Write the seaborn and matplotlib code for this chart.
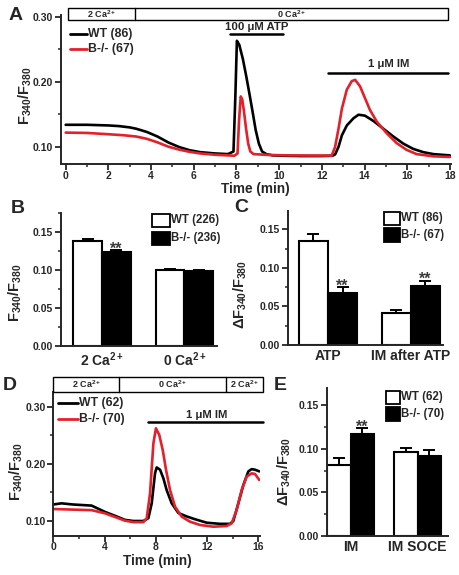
import numpy as np
import pandas as pd
import matplotlib
matplotlib.use("Agg")
import matplotlib.pyplot as plt
import seaborn as sns
from matplotlib.patches import Rectangle
from matplotlib.lines import Line2D
from matplotlib.ticker import MultipleLocator, FormatStrFormatter

# ---------------- data ----------------
genotypes = ["WT", "B-/-"]

# Panel A traces (time in min, F340/F380)
a_wt_t = [0, 1, 2, 2.5, 3.0, 3.3, 3.8, 4.3, 4.8, 5.3, 5.8, 6.3, 7.0, 7.6, 7.86, 7.95, 8.02, 8.13,
          8.3, 8.45, 8.6, 8.75, 8.9, 9.05, 9.2, 9.4, 9.7, 10.2, 11.0, 12.0, 12.5, 12.62, 12.78,
          12.94, 13.17, 13.48, 13.72, 14.02, 14.41, 14.88, 15.35, 15.82, 16.28, 16.75, 17.22, 18.0]
a_wt_v = [0.134, 0.134, 0.133, 0.132, 0.130, 0.128, 0.123, 0.116, 0.107, 0.100, 0.095, 0.092,
          0.090, 0.089, 0.093, 0.180, 0.263, 0.257, 0.235, 0.210, 0.183, 0.155, 0.126, 0.105,
          0.093, 0.089, 0.087, 0.0865, 0.086, 0.086, 0.0865, 0.0885, 0.100, 0.118, 0.133, 0.144,
          0.1495, 0.148, 0.140, 0.128, 0.116, 0.105, 0.097, 0.092, 0.089, 0.087]
a_ko_t = [0, 1, 2, 2.7, 3.3, 3.8, 4.3, 4.8, 5.3, 5.8, 6.3, 7.0, 7.9, 8.05, 8.12, 8.2, 8.27, 8.35,
          8.45, 8.55, 8.65, 8.8, 9.5, 10.5, 12.46, 12.62, 12.78, 12.94, 13.17, 13.4, 13.56, 13.79,
          14.02, 14.25, 14.57, 15.04, 15.5, 15.97, 16.44, 17.22, 18.0]
a_ko_v = [0.122, 0.1215, 0.1195, 0.118, 0.116, 0.1125, 0.107, 0.1005, 0.096, 0.0925, 0.090, 0.088,
          0.0865, 0.090, 0.140, 0.1775, 0.173, 0.155, 0.128, 0.105, 0.093, 0.089, 0.0877, 0.087,
          0.0867, 0.100, 0.128, 0.159, 0.188, 0.201, 0.203, 0.193, 0.175, 0.157, 0.139, 0.121,
          0.106, 0.0955, 0.089, 0.0856, 0.0846]
a_n = {"WT": 86, "B-/-": 67}
a_switch = [0.1, 3.24, 17.92]          # 2 Ca -> 0 Ca solution change
a_atp = [7.70, 10.18]                  # 100 uM ATP application
a_im = [12.3, 17.92]                   # 1 uM IM application

# Panel B
b_cond = ["2 Ca$^{2+}$", "0 Ca$^{2+}$"]
b_wt = [0.1385, 0.1000]
b_wt_err = [0.0026, 0.0010]
b_ko = [0.1240, 0.0990]
b_ko_err = [0.0020, 0.0010]
b_n = {"WT": 226, "B-/-": 236}
b_sig = [True, False]

# Panel C
c_cond = ["ATP", "IM after ATP"]
c_wt = [0.1355, 0.0410]
c_wt_err = [0.0090, 0.0038]
c_ko = [0.0680, 0.0765]
c_ko_err = [0.0068, 0.0072]
c_n = {"WT": 86, "B-/-": 67}
c_sig = [True, True]

# Panel D traces
d_wt_t = [0, 0.65, 1.5, 2.99, 4.03, 4.94, 5.59, 6.25, 7.03, 7.42, 7.68, 7.94, 8.07, 8.33, 8.59,
          8.85, 9.24, 9.76, 10.41, 11.0, 11.97, 13.01, 13.79, 14.05, 14.44, 14.83, 15.22, 15.48,
          15.74, 16.08]
d_wt_v = [0.129, 0.131, 0.129, 0.127, 0.116, 0.108, 0.102, 0.100, 0.100, 0.105, 0.131, 0.184,
          0.194, 0.190, 0.175, 0.154, 0.131, 0.114, 0.108, 0.1035, 0.097, 0.095, 0.095, 0.100,
          0.131, 0.163, 0.187, 0.191, 0.190, 0.187]
d_ko_t = [0, 1.5, 2.99, 4.03, 4.94, 5.59, 6.25, 7.03, 7.29, 7.55, 7.81, 8.01, 8.27, 8.54, 8.80,
          9.11, 9.50, 10.02, 10.67, 11.45, 12.49, 13.53, 13.92, 14.31, 14.70, 15.09, 15.48,
          15.74, 16.08]
d_ko_v = [0.121, 0.120, 0.119, 0.1135, 0.106, 0.1006, 0.098, 0.098, 0.1047, 0.1485, 0.236, 0.2626,
          0.251, 0.2246, 0.1895, 0.1544, 0.1252, 0.1076, 0.0988, 0.093, 0.090, 0.0912, 0.0959,
          0.1193, 0.1544, 0.1778, 0.1836, 0.1825, 0.1719]
d_n = {"WT": 62, "B-/-": 70}
d_switch = [0, 5.13, 13.48, 16.37]     # 2 Ca | 0 Ca | 2 Ca
d_im = [7.42, 16.34]

# Panel E
e_cond = ["IM", "IM SOCE"]
e_wt = [0.0818, 0.0965]
e_wt_err = [0.0072, 0.0045]
e_ko = [0.1165, 0.0920]
e_ko_err = [0.0072, 0.0060]
e_n = {"WT": 62, "B-/-": 70}
e_sig = [True, False]

# ---------------- style ----------------
sns.set_style("ticks")
FONT = "Liberation Sans"
plt.rcParams["font.family"] = [FONT, "DejaVu Sans"]
plt.rcParams["font.weight"] = "bold"
plt.rcParams["axes.labelweight"] = "bold"
plt.rcParams["mathtext.fontset"] = "custom"
plt.rcParams["mathtext.rm"] = FONT + ":bold"
plt.rcParams["mathtext.it"] = FONT + ":bold"
plt.rcParams["mathtext.bf"] = FONT + ":bold"
plt.rcParams["mathtext.default"] = "rm"

RED = "#e3202b"
line_pal = {"WT": "black", "B-/-": RED}
bar_pal = {"WT": "white", "B-/-": "black"}

W, H = 460, 575
fig = plt.figure(figsize=(W / 100, H / 100), dpi=100)


def R(l, t, r, b):
    return [l / W, 1 - b / H, (r - l) / W, (b - t) / H]


def fx(x):
    return x / W


def fy(y):
    return 1 - y / H


def style(ax):
    for s in ["top", "right"]:
        ax.spines[s].set_visible(False)
    for s in ["left", "bottom"]:
        ax.spines[s].set_linewidth(1.4)
    ax.tick_params(which="major", direction="out", length=4, width=1.3, labelsize=7.5, pad=1.5)
    ax.tick_params(which="minor", direction="out", length=2.5, width=1.1)


def ylab(ax, text, x, y, size=10.5):
    ax.set_ylabel(text, fontsize=size, fontweight="bold", va="center", ha="center")
    ax.yaxis.set_label_coords(fx(x), fy(y), transform=fig.transFigure)


def xlab(ax, text, x, y, size=9.8):
    ax.set_xlabel(text, fontsize=size, fontweight="bold", va="center", ha="center")
    ax.xaxis.set_label_coords(fx(x), fy(y), transform=fig.transFigure)


def panel_letter(s, x, y):
    fig.text(fx(x), fy(y), s, fontsize=14, fontweight="bold", ha="center", va="center")


def trace_legend(x0, x1, ys, n):
    for g, y in zip(genotypes, ys):
        fig.add_artist(Line2D([fx(x0), fx(x1)], [fy(y), fy(y)], color=line_pal[g], lw=2,
                              transform=fig.transFigure))
        fig.text(fx(x1 + 1.5), fy(y), f"{g} ({n[g]})", fontsize=8.8, fontweight="bold",
                 ha="left", va="center")


def bar_legend(x0, x1, boxes, n):
    for g, (yt, yb) in zip(genotypes, boxes):
        fig.add_artist(Rectangle((fx(x0), fy(yb)), (x1 - x0) / W, (yb - yt) / H,
                                 facecolor=bar_pal[g], edgecolor="black", lw=1.3,
                                 transform=fig.transFigure))
        fig.text(fx(x1 + 1.5), fy((yt + yb) / 2), f"{g} ({n[g]})", fontsize=8.3,
                 fontweight="bold", ha="left", va="center")


def traces(ax, wt_t, wt_v, ko_t, ko_v):
    df = pd.concat([
        pd.DataFrame({"t": wt_t, "v": wt_v, "geno": "WT"}),
        pd.DataFrame({"t": ko_t, "v": ko_v, "geno": "B-/-"}),
    ], ignore_index=True)
    sns.lineplot(data=df, x="t", y="v", hue="geno", hue_order=genotypes, palette=line_pal,
                 estimator=None, linewidth=1.9, legend=False, ax=ax)


def bars(ax, cond, wt, wt_err, ko, ko_err, sig):
    df = pd.DataFrame({"cond": cond * 2, "geno": ["WT"] * len(cond) + ["B-/-"] * len(cond),
                       "val": wt + ko})
    sns.barplot(data=df, x="cond", y="val", hue="geno", order=cond, hue_order=genotypes,
                palette=bar_pal, saturation=1, width=0.7, errorbar=None, edgecolor="black",
                linewidth=1.5, legend=False, ax=ax)
    errs = {"WT": wt_err, "B-/-": ko_err}
    for p in ax.patches:
        if p.get_height() <= 0:
            continue
        cx = p.get_x() + p.get_width() / 2
        i = int(round(cx))
        g = "WT" if p.get_facecolor()[0] > 0.5 else "B-/-"
        e = errs[g][i]
        top = p.get_height()
        ax.errorbar(cx, top, yerr=[[0], [e]], fmt="none", ecolor="black", elinewidth=1.4,
                    capsize=4.3, capthick=1.4, zorder=5)
        if g == "B-/-" and sig[i]:
            ax.annotate("**", (cx, top + e), xytext=(0, -2.5), textcoords="offset points",
                        ha="center", va="baseline", fontsize=11.5, fontweight="bold",
                        color="#3a3a3a", family="Liberation Sans")
    ax.set_xlabel("")
    ax.yaxis.set_major_locator(MultipleLocator(0.05))
    ax.yaxis.set_minor_locator(MultipleLocator(0.025))
    ax.yaxis.set_major_formatter(FormatStrFormatter("%.2f"))


# ---------------- Panel A ----------------
axA = fig.add_axes(R(61, 15, 451, 164))
traces(axA, a_wt_t, a_wt_v, a_ko_t, a_ko_v)
style(axA)
axA.tick_params(axis="x", which="major", pad=1)
axA.set_xlim(-0.22, 18.05)
axA.set_ylim(0.0738, 0.3026)
axA.xaxis.set_major_locator(MultipleLocator(2))
axA.xaxis.set_minor_locator(MultipleLocator(1))
axA.yaxis.set_major_locator(MultipleLocator(0.1))
axA.yaxis.set_minor_locator(MultipleLocator(0.05))
axA.yaxis.set_major_formatter(FormatStrFormatter("%.2f"))
ylab(axA, "F$_{340}$/F$_{380}$", 25, 96)
xlab(axA, "Time (min)", 255, 189)
# solution header
y0, y1 = 0.295, 0.3134
axA.add_patch(Rectangle((a_switch[0], y0), a_switch[2] - a_switch[0], y1 - y0, facecolor="white",
                        edgecolor="black", lw=1.0, clip_on=False, zorder=6))
axA.plot([a_switch[1], a_switch[1]], [y0, y1], color="black", lw=1.0, clip_on=False, zorder=7)
axA.text((a_switch[0] + a_switch[1]) / 2, (y0 + y1) / 2, "2 Ca$^{2+}$", fontsize=6.5,
         ha="center", va="center", zorder=8)
axA.text((a_switch[1] + a_switch[2]) / 2, (y0 + y1) / 2, "0 Ca$^{2+}$", fontsize=6.5,
         ha="center", va="center", zorder=8)
axA.plot(a_atp, [0.273, 0.273], color="black", lw=1.8, clip_on=False)
axA.text(sum(a_atp) / 2, 0.2772, "100 μM ATP", fontsize=8.2, ha="center", va="bottom")
axA.plot(a_im, [0.2133, 0.2133], color="black", lw=1.8, clip_on=False)
axA.text(15.11, 0.2195, "1 μM IM", fontsize=8.2, ha="center", va="bottom")
trace_legend(70, 87, [34.3, 49.3], a_n)
panel_letter("A", 15.5, 16)

# ---------------- Panel B ----------------
axB = fig.add_axes(R(61, 213, 217, 346))
bars(axB, b_cond, b_wt, b_wt_err, b_ko, b_ko_err, b_sig)
style(axB)
axB.tick_params(axis="x", which="both", length=0, labelsize=10, pad=3)
axB.set_xlim(-0.497, 1.394)
axB.set_ylim(0, 0.175)
ylab(axB, "F$_{340}$/F$_{380}$", 15, 293)
bar_legend(152.3, 170, [(214, 226.7), (231.7, 245)], b_n)
panel_letter("B", 17.5, 208.5)

# ---------------- Panel C ----------------
axC = fig.add_axes(R(288, 211, 443, 345))
bars(axC, c_cond, c_wt, c_wt_err, c_ko, c_ko_err, c_sig)
style(axC)
axC.tick_params(axis="x", which="both", length=0, labelsize=10, pad=3)
axC.set_xlim(-0.482, 1.386)
axC.set_ylim(0, 0.174)
ylab(axC, "ΔF$_{340}$/F$_{380}$", 240, 295)
bar_legend(384, 400, [(211.7, 225), (228.3, 241.7)], c_n)
panel_letter("C", 241.5, 207.5)

# ---------------- Panel D ----------------
axD = fig.add_axes(R(53.3, 392, 259.6, 535.7))
traces(axD, d_wt_t, d_wt_v, d_ko_t, d_ko_v)
style(axD)
axD.tick_params(axis="x", which="major", pad=0.5)
axD.set_xlim(0, 16.1)
axD.set_ylim(0.0742, 0.3263)
axD.xaxis.set_major_locator(MultipleLocator(4))
axD.xaxis.set_minor_locator(MultipleLocator(2))
axD.yaxis.set_major_locator(MultipleLocator(0.1))
axD.yaxis.set_minor_locator(MultipleLocator(0.05))
axD.yaxis.set_major_formatter(FormatStrFormatter("%.2f"))
ylab(axD, "F$_{340}$/F$_{380}$", 16, 472)
xlab(axD, "Time (min)", 157, 561)
y0, y1 = 0.3263, 0.3526
axD.add_patch(Rectangle((d_switch[0], y0), d_switch[3] - d_switch[0], y1 - y0, facecolor="white",
                        edgecolor="black", lw=1.0, clip_on=False, zorder=6))
for s in d_switch[1:3]:
    axD.plot([s, s], [y0, y1], color="black", lw=1.0, clip_on=False, zorder=7)
for (s0, s1), lab in zip([(d_switch[0], d_switch[1]), (d_switch[1], d_switch[2]),
                          (d_switch[2], d_switch[3])], ["2 Ca$^{2+}$", "0 Ca$^{2+}$", "2 Ca$^{2+}$"]):
    axD.text((s0 + s1) / 2, (y0 + y1) / 2, lab, fontsize=6.5, ha="center", va="center", zorder=8)
axD.plot(d_im, [0.273, 0.273], color="black", lw=1.8, clip_on=False)
axD.text(11.97, 0.2775, "1 μM IM", fontsize=8.2, ha="center", va="bottom")
trace_legend(58, 78, [403.3, 419.3], d_n)
panel_letter("D", 10, 385.5)

# ---------------- Panel E ----------------
axE = fig.add_axes(R(327, 388, 448, 536))
bars(axE, e_cond, e_wt, e_wt_err, e_ko, e_ko_err, e_sig)
style(axE)
axE.tick_params(axis="x", which="both", length=0, labelsize=10, pad=3)
axE.set_xlim(-0.354, 1.452)
axE.set_ylim(0, 0.1695)
ylab(axE, "ΔF$_{340}$/F$_{380}$", 284, 472)
bar_legend(386, 400, [(390.7, 404), (406.7, 420.7)], e_n)
panel_letter("E", 280, 385.5)

fig.savefig("out.png", dpi=100)
